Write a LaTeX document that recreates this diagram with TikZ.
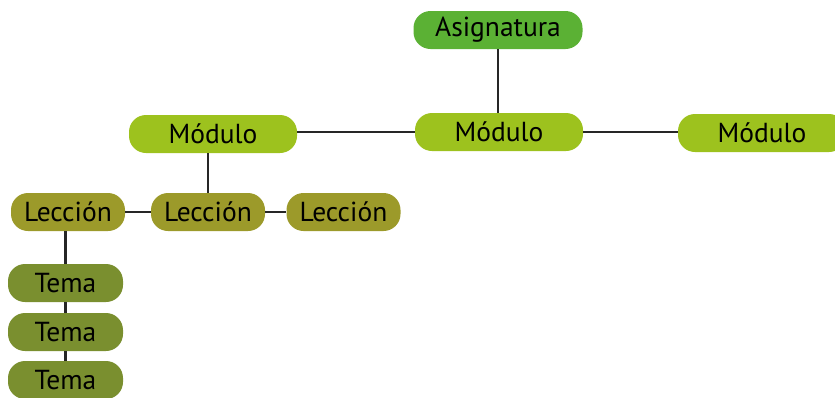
\documentclass[tikz,border=0pt]{standalone}
\usepackage{fontspec}
\setmainfont{PT Sans}
\definecolor{asigc}{HTML}{5BB134}
\definecolor{modc}{HTML}{9DC21E}
\definecolor{lecc}{HTML}{9C9A2A}
\definecolor{temac}{HTML}{7A8F2F}
\tikzset{
  box/.style={rounded corners=17pt, inner sep=0pt, minimum height=38pt,
    font=\fontsize{27.5}{30}\selectfont, text=black},
  asig/.style={box, fill=asigc, minimum width=169pt},
  modb/.style={box, fill=modc, minimum width=168pt},
  lecb/.style={box, fill=lecc, minimum width=114pt},
  temab/.style={box, fill=temac, minimum width=115pt},
  link/.style={line width=2.5pt, draw=black!85}
}
\begin{document}
\begin{tikzpicture}[x=1pt,y=-1pt]
\useasboundingbox (0,0) rectangle (835,397);
\begin{scope}
\clip (0,0) rectangle (835,397);
\node[asig] (a) at (498,30) {Asignatura};
\node[modb] (m2) at (499,132) {Módulo};
\node[modb] (m1) at (213,134) {Módulo};
\node[modb] (m3) at (762,133) {Módulo};
\node[lecb] (l1) at (68,212) {Lección};
\node[lecb] (l2) at (208,212) {Lección};
\node[lecb] (l3) at (343.5,212) {Lección};
\node[temab] (t1) at (65.5,283) {Tema};
\node[temab] (t2) at (65.5,332) {Tema};
\node[temab] (t3) at (65.5,380) {Tema};
\draw[link] (a.south) -- (a.south |- m2.north);
\draw[link] (m1.east |- m2.west) -- (m2.west);
\draw[link] (m2.east) -- (m3.west |- m2.east);
\draw[link] (m1.south -| l2.north) -- (l2.north);
\draw[link] (l1.east) -- (l2.west);
\draw[link] (l2.east) -- (l3.west);
\draw[link] (l1.south -| t1.north) -- (t1.north);
\draw[link] (t1.south) -- (t2.north);
\draw[link] (t2.south) -- (t3.north);
\end{scope}
\end{tikzpicture}
\end{document}
